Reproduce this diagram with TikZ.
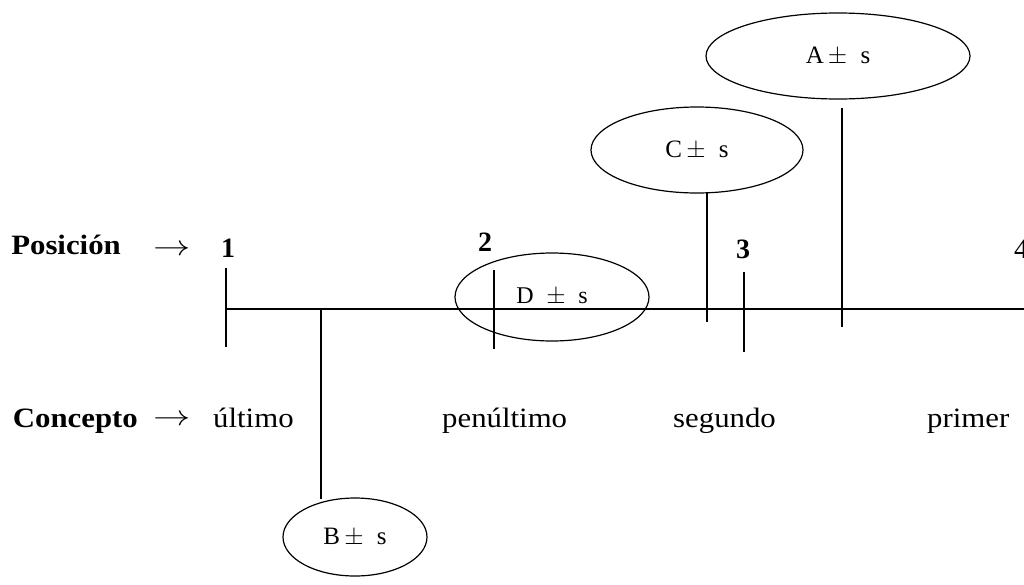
\documentclass[tikz,border=0pt]{standalone}
\usepackage{fontspec}
\setmainfont{Liberation Serif}
\usetikzlibrary{shapes.geometric}
% the printed type is slightly wide
\newcommand\widetype[1]{\scalebox{1.1}[1.0]{#1}}
\newcommand\longarrow{\scalebox{1.5}[1.15]{$\rightarrow$}}
\tikzset{
  x=1pt, y=-1pt,
  rule/.style={line width=1.6pt},
  oval/.style={draw, ellipse, line width=1.2pt, inner sep=0pt,
    font=\fontsize{25}{27}\selectfont},
  lab/.style={inner sep=0pt, font=\fontsize{28}{32}\selectfont},
  head/.style={inner sep=0pt, font=\fontsize{28}{32}\selectfont\bfseries},
}
\begin{document}
\begin{tikzpicture}
\useasboundingbox (0,0) rectangle (1024,584);

% axis and position ticks
\coordinate (s) at (226,309);
\coordinate (e) at (1030,309);
\draw[rule] (s) -- (e);
\coordinate (t1a) at (226,268); \coordinate (t1b) at (226,347);
\coordinate (t2a) at (494,270); \coordinate (t2b) at (494,349);
\coordinate (t3a) at (744,272); \coordinate (t3b) at (744,352);
\draw[rule] (t1a) -- (t1b);
\draw[rule] (t2a) -- (t2b);
\draw[rule] (t3a) -- (t3b);

% row labels
\node[head, anchor=base east] (pos) at (121,254) {\widetype{Posición}};
\node[lab, anchor=base] (arr1) at (172,255) {\longarrow};
\node[head, anchor=base] (n1) at (228,257) {1};
\node[head, anchor=base] (n2) at (485,251) {2};
\node[head, anchor=base] (n3) at (743,258) {3};
\node[lab, anchor=base west] (n4) at (1014,258) {4};

\node[head, anchor=base east] (con) at (138,427) {\widetype{Concepto}};
\node[lab, anchor=base] (arr2) at (172,425) {\longarrow};
\node[lab, anchor=base west] (c1) at (213,427) {\widetype{último}};
\node[lab, anchor=base west] (c2) at (442,427) {\widetype{penúltimo}};
\node[lab, anchor=base west] (c3) at (673,427) {\widetype{segundo}};
\node[lab, anchor=base west] (c4) at (927,427) {\widetype{primer}};

% estimates
\node[oval, minimum width=264pt, minimum height=86pt] (A) at (838,56) {A\,$\pm$\; s};
\node[oval, minimum width=212pt, minimum height=86pt] (C) at (697,150) {C\,$\pm$\; s};
\node[oval, minimum width=194pt, minimum height=88pt, font=\fontsize{24}{26}\selectfont] (D) at (552,297) {D\; $\pm$\; s};
\node[oval, minimum width=144pt, minimum height=78pt] (B) at (355,537) {B\,$\pm$\; s};

% stems from the ovals to the axis
\coordinate (aTop) at (842,108); \coordinate (aBot) at (842,327);
\coordinate (cTop) at (707,193); \coordinate (cBot) at (707,322);
\coordinate (bTop) at (321,309); \coordinate (bBot) at (321,499);
\draw[rule] (aTop) -- (aBot);
\draw[rule] (cTop) -- (cBot);
\draw[rule] (bTop) -- (bBot);
\end{tikzpicture}
\end{document}
